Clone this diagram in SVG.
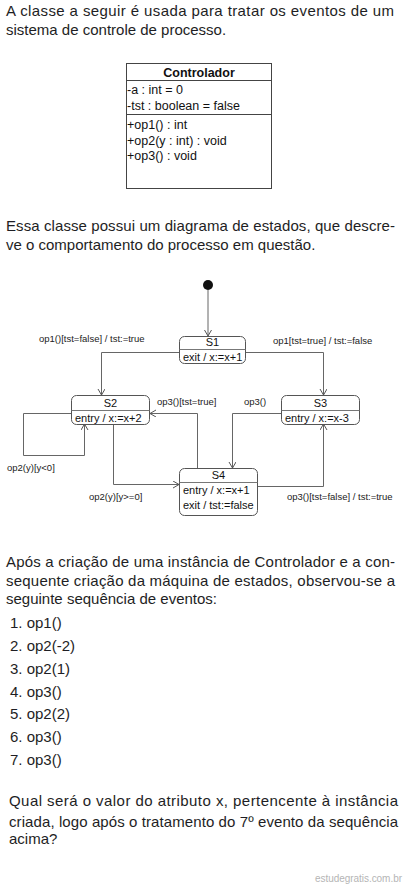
<svg xmlns="http://www.w3.org/2000/svg" width="412" height="886" viewBox="0 0 412 886">
<defs>
<style>
text{font-family:"Liberation Sans",Arial,sans-serif;fill:#1e1e24}
.p{font-size:15px}
.c{font-size:12.5px;fill:#111}
.cb{font-size:12.5px;font-weight:bold;fill:#111}
.st{font-size:11px;fill:#111}
.lb{font-size:9.5px;fill:#222}
.box{fill:#fff;stroke:#555;stroke-width:1}
.div{stroke:#777;stroke-width:1}
.cn{fill:none;stroke:#666;stroke-width:1}
.wm{font-size:10px;fill:#b5b5b5}
</style>
<marker id="ah" markerWidth="8" markerHeight="8" refX="6.5" refY="3.5" orient="auto" markerUnits="userSpaceOnUse">
<path d="M0.5,0 L6.5,3.5 L0.5,7" fill="none" stroke="#555" stroke-width="1"/>
</marker>
</defs>
<rect width="412" height="886" fill="#fff"/>

<g id="intro">
<text class="p" x="6" y="16" textLength="388" lengthAdjust="spacing">A classe a seguir é usada para tratar os eventos de um</text>
<text class="p" x="6" y="35">sistema de controle de processo.</text>
</g>

<g id="class-controlador">
<rect x="126.5" y="63.5" width="145" height="125" fill="#fff" stroke="#444"/>
<line x1="126.5" y1="80.5" x2="271.5" y2="80.5" stroke="#444"/>
<line x1="126.5" y1="114.5" x2="271.5" y2="114.5" stroke="#444"/>
<text class="cb" x="199" y="77" text-anchor="middle">Controlador</text>
<text class="c" x="127" y="94">-a : int = 0</text>
<text class="c" x="127" y="110">-tst : boolean = false</text>
<text class="c" x="127" y="129">+op1() : int</text>
<text class="c" x="127" y="145">+op2(y : int) : void</text>
<text class="c" x="127" y="160">+op3() : void</text>
</g>

<g id="para2">
<text class="p" x="6" y="231" textLength="389" lengthAdjust="spacing">Essa classe possui um diagrama de estados, que descre-</text>
<text class="p" x="6" y="250">ve o comportamento do processo em questão.</text>
</g>

<g id="connectors">
<circle cx="208" cy="285" r="5" fill="#111"/>
<line class="cn" x1="208" y1="290" x2="208" y2="336" marker-end="url(#ah)"/>
<polyline class="cn" points="179,352.5 101.5,352.5 101.5,395" marker-end="url(#ah)"/>
<polyline class="cn" points="246,352.5 323.5,352.5 323.5,395" marker-end="url(#ah)"/>
<polyline class="cn" points="71,413.5 23.5,413.5 23.5,455.5 84.5,455.5 84.5,424" marker-end="url(#ah)"/>
<polyline class="cn" points="113.5,424 113.5,484.5 179,484.5" marker-end="url(#ah)"/>
<polyline class="cn" points="197.5,468 197.5,413.5 150,413.5" marker-end="url(#ah)"/>
<polyline class="cn" points="281,413.5 232.5,413.5 232.5,468" marker-end="url(#ah)"/>
<polyline class="cn" points="257,486.5 323.5,486.5 323.5,424" marker-end="url(#ah)"/>
<text class="lb" x="39" y="342">op1()[tst=false] / tst:=true</text>
<text class="lb" x="273" y="344">op1[tst=true] / tst:=false</text>
<text class="lb" x="7" y="471">op2(y)[y&lt;0]</text>
<text class="lb" x="89" y="500">op2(y)[y&gt;=0]</text>
<text class="lb" x="157" y="405">op3()[tst=true]</text>
<text class="lb" x="244" y="405">op3()</text>
<text class="lb" x="287" y="500">op3()[tst=false] / tst:=true</text>
</g>

<g id="S1">
<rect class="box" x="179.5" y="336.5" width="66" height="27" rx="5"/>
<line class="div" x1="179.5" y1="349.5" x2="245.5" y2="349.5"/>
<text class="st" x="212.5" y="346" text-anchor="middle">S1</text>
<text class="st" x="183" y="361">exit / x:=x+1</text>
</g>

<g id="S2">
<rect class="box" x="71.5" y="395.5" width="78" height="29" rx="5"/>
<line class="div" x1="71.5" y1="410.5" x2="149.5" y2="410.5"/>
<text class="st" x="110.5" y="407" text-anchor="middle">S2</text>
<text class="st" x="75" y="421.5">entry / x:=x+2</text>
</g>

<g id="S3">
<rect class="box" x="281.5" y="395.5" width="78" height="29" rx="5"/>
<line class="div" x1="281.5" y1="410.5" x2="359.5" y2="410.5"/>
<text class="st" x="320.5" y="407" text-anchor="middle">S3</text>
<text class="st" x="285" y="421.5">entry / x:=x-3</text>
</g>

<g id="S4">
<rect class="box" x="179.5" y="468.5" width="78" height="47" rx="5"/>
<line class="div" x1="179.5" y1="482.5" x2="257.5" y2="482.5"/>
<text class="st" x="218.5" y="479" text-anchor="middle">S4</text>
<text class="st" x="183" y="494">entry / x:=x+1</text>
<text class="st" x="183" y="509">exit / tst:=false</text>
</g>

<g id="para3">
<text class="p" x="6" y="567" textLength="389" lengthAdjust="spacing">Após a criação de uma instância de Controlador e a con-</text>
<text class="p" x="6" y="586" textLength="389" lengthAdjust="spacing">sequente criação da máquina de estados, observou-se a</text>
<text class="p" x="6" y="604">seguinte sequência de eventos:</text>
</g>

<g id="list">
<text class="p" x="10" y="628">1. op1()</text>
<text class="p" x="10" y="651">2. op2(-2)</text>
<text class="p" x="10" y="674">3. op2(1)</text>
<text class="p" x="10" y="697">4. op3()</text>
<text class="p" x="10" y="719">5. op2(2)</text>
<text class="p" x="10" y="742">6. op3()</text>
<text class="p" x="10" y="765">7. op3()</text>
</g>

<g id="question">
<text class="p" x="9" y="806" textLength="389" lengthAdjust="spacing">Qual será o valor do atributo x, pertencente à instância</text>
<text class="p" x="9" y="827" textLength="389" lengthAdjust="spacing">criada, logo após o tratamento do 7º evento da sequência</text>
<text class="p" x="9" y="844">acima?</text>
</g>

<text class="wm" x="315" y="882" textLength="87" lengthAdjust="spacing">estudegratis.com.br</text>
</svg>
